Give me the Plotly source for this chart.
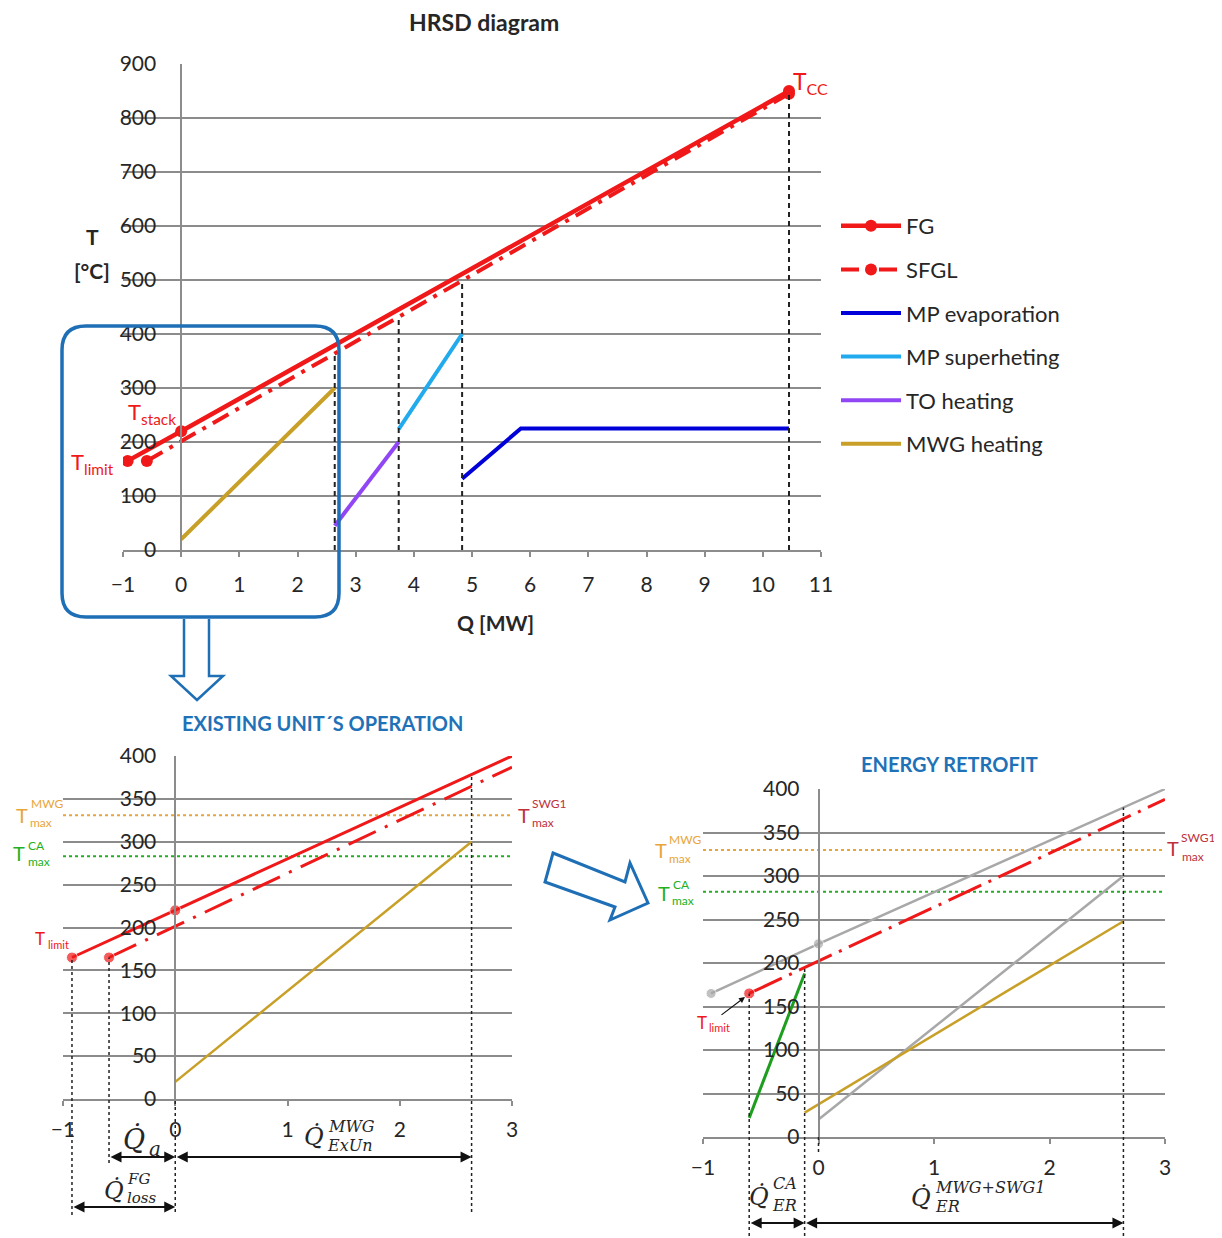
import numpy as np
import plotly.graph_objects as go

# ---------------- data ----------------
# HRSD diagram (top)
Q_FG = [-0.92, 0.0, 10.45]
T_FG = [165, 220, 850]
Q_SFGL = [-0.59, 10.45]
T_SFGL = [165, 845]
Q_MP_EVAP = [4.83, 5.84, 10.45]
T_MP_EVAP = [132, 225, 225]
Q_MP_SH = [3.74, 4.83]
T_MP_SH = [224, 400]
Q_TO = [2.64, 3.74]
T_TO = [45, 200]
Q_MWG = [0.0, 2.64]
T_MWG = [20, 300]
Q_SECTIONS = [2.64, 3.74, 4.83, 10.45]
LEGEND_NAMES = ["FG", "SFGL", "MP evaporation", "MP superheting", "TO heating", "MWG heating"]

# Existing unit's operation (bottom left)
Q_FG_EX = [-0.92, 0.0, 3.0]
T_FG_EX = [165, 220, 400]
Q_SFGL_EX = [-0.59, 3.0]
T_SFGL_EX = [165, 387]
Q_MWG_EX = [0.0, 2.64]
T_MWG_EX = [20, 300]
T_MAX_MWG_EX = 331
T_MAX_CA_EX = 283

# Energy retrofit (bottom right)
Q_FG_ER = [-0.93, 0.0, 3.0]
T_FG_ER = [165, 222, 400]
Q_SFGL_ER = [-0.6, 3.0]
T_SFGL_ER = [165, 388]
Q_CA_ER = [-0.6, -0.12]
T_CA_ER = [22, 188]
Q_MWG_OLD = [0.0, 2.64]
T_MWG_OLD = [20, 300]
Q_MWG_SWG1 = [-0.12, 2.64]
T_MWG_SWG1 = [28, 248]
T_MAX_MWG_ER = 330
T_MAX_CA_ER = 282

# ---------------- style ----------------
OFF = 8                      # page body margin of the html page
W, H = 1222 - OFF, 1238 - OFF
FONT = "Lato"
MATH = "DejaVu Serif"
RED = "#F01818"
DKRED = "#C0303A"
BLUE_D = "#0000D8"
BLUE_L = "#22AAEE"
PURPLE = "#9146F5"
GOLD = "#C8A028"
GRAY = "#A8A8A8"
GREEN = "#1E9E1E"
DOT_OR = "#E8A53A"
DOT_GR = "#22B022"
TITLE_BLUE = "#1F72B8"
GRID = "#8C8C8C"
TXT = "#262626"


def px(x):
    return (x - OFF) / W


def py(y):
    return 1 - (y - OFF) / H


fig = go.Figure()

# ---------- top chart traces ----------
SFGL_DASH_TOP = "18px,8px,4px,8px"
fig.add_trace(go.Scatter(x=Q_FG, y=T_FG, name=LEGEND_NAMES[0], legendgroup="a",
                         mode="lines+markers", line=dict(color=RED, width=4.5),
                         marker=dict(size=12, color=RED), xaxis="x", yaxis="y"))
fig.add_trace(go.Scatter(x=Q_SFGL, y=T_SFGL, name=LEGEND_NAMES[1], legendgroup="b",
                         mode="lines+markers", line=dict(color=RED, width=4, dash=SFGL_DASH_TOP),
                         marker=dict(size=12, color=RED), xaxis="x", yaxis="y"))
fig.add_trace(go.Scatter(x=Q_MP_EVAP, y=T_MP_EVAP, name=LEGEND_NAMES[2], legendgroup="c",
                         mode="lines", line=dict(color=BLUE_D, width=4), xaxis="x", yaxis="y"))
fig.add_trace(go.Scatter(x=Q_MP_SH, y=T_MP_SH, name=LEGEND_NAMES[3], legendgroup="d",
                         mode="lines", line=dict(color=BLUE_L, width=4), xaxis="x", yaxis="y"))
fig.add_trace(go.Scatter(x=Q_TO, y=T_TO, name=LEGEND_NAMES[4], legendgroup="e",
                         mode="lines", line=dict(color=PURPLE, width=4), xaxis="x", yaxis="y"))
fig.add_trace(go.Scatter(x=Q_MWG, y=T_MWG, name=LEGEND_NAMES[5], legendgroup="f",
                         mode="lines", line=dict(color=GOLD, width=4), xaxis="x", yaxis="y"))

# ---------- bottom-left traces ----------
for t, col in ((T_MAX_MWG_EX, DOT_OR), (T_MAX_CA_EX, DOT_GR)):
    fig.add_trace(go.Scatter(x=[-1, 3], y=[t, t], mode="lines", showlegend=False,
                             line=dict(color=col, width=2, dash="dot"), xaxis="x2", yaxis="y2"))
fig.add_trace(go.Scatter(x=Q_FG_EX, y=T_FG_EX, mode="lines+markers", showlegend=False,
                         line=dict(color=RED, width=3), marker=dict(size=[11, 11, 0], color=RED),
                         xaxis="x2", yaxis="y2"))
fig.add_trace(go.Scatter(x=Q_SFGL_EX, y=T_SFGL_EX, mode="lines+markers", showlegend=False,
                         line=dict(color=RED, width=3, dash="30px,10px,3px,10px"),
                         marker=dict(size=[11, 0], color=RED), xaxis="x2", yaxis="y2"))
fig.add_trace(go.Scatter(x=Q_MWG_EX, y=T_MWG_EX, mode="lines", showlegend=False,
                         line=dict(color=GOLD, width=2.5), xaxis="x2", yaxis="y2"))

# ---------- bottom-right traces ----------
for t, col in ((T_MAX_MWG_ER, DOT_OR), (T_MAX_CA_ER, DOT_GR)):
    fig.add_trace(go.Scatter(x=[-1, 3], y=[t, t], mode="lines", showlegend=False,
                             line=dict(color=col, width=2, dash="dot"), xaxis="x3", yaxis="y3"))
fig.add_trace(go.Scatter(x=Q_FG_ER, y=T_FG_ER, mode="lines+markers", showlegend=False,
                         line=dict(color=GRAY, width=2.5), marker=dict(size=[10, 10, 0], color=GRAY),
                         xaxis="x3", yaxis="y3"))
fig.add_trace(go.Scatter(x=Q_MWG_OLD, y=T_MWG_OLD, mode="lines", showlegend=False,
                         line=dict(color=GRAY, width=2.5), xaxis="x3", yaxis="y3"))
fig.add_trace(go.Scatter(x=Q_MWG_SWG1, y=T_MWG_SWG1, mode="lines", showlegend=False,
                         line=dict(color=GOLD, width=2.5), xaxis="x3", yaxis="y3"))
fig.add_trace(go.Scatter(x=Q_CA_ER, y=T_CA_ER, mode="lines", showlegend=False,
                         line=dict(color=GREEN, width=3), xaxis="x3", yaxis="y3"))
fig.add_trace(go.Scatter(x=Q_SFGL_ER, y=T_SFGL_ER, mode="lines+markers", showlegend=False,
                         line=dict(color=RED, width=3, dash="36px,8px,3px,8px"),
                         marker=dict(size=[11, 0], color=RED), xaxis="x3", yaxis="y3"))

# ---------- axes ----------
AX = {
    # name: (x px left, x px right, y px bottom, y px top, xrange, yrange, dtick_y)
    "1": (123, 821, 550, 64, [-1, 11], [0, 900], 100),
    "2": (63, 512, 1099, 756, [-1, 3], [0, 400], 50),
    "3": (703, 1165, 1137, 789, [-1, 3], [0, 400], 50),
}
layout_axes = {}
for k, (xl, xr, yb, yt, xr_, yr_, dty) in AX.items():
    sfx = "" if k == "1" else k
    xd = [px(xl), px(xr)]
    yd = [py(yb), py(yt)]
    pos = xd[0] + (0 - xr_[0]) / (xr_[1] - xr_[0]) * (xd[1] - xd[0])
    layout_axes["xaxis" + sfx] = dict(
        domain=xd, range=xr_, dtick=1, tick0=0, anchor="y" + sfx, showgrid=False,
        zeroline=False, showline=True, linecolor=GRID, linewidth=1.5,
        ticks="outside", ticklen=5, tickcolor=GRID, tickwidth=1.5, automargin=False,
        ticklabelstandoff=10 if k == "1" else 6,
        tickfont=dict(size=21, family=FONT, color=TXT))
    layout_axes["yaxis" + sfx] = dict(
        domain=yd, range=yr_, dtick=dty, tick0=0, anchor="free", position=pos,
        showgrid=True, gridcolor=GRID, gridwidth=1.5, zeroline=False, automargin=False,
        showline=True, linecolor=GRID, linewidth=1.5, ticks="",
        ticklabelstandoff=20 if k == "1" else 14,
        tickfont=dict(size=21, family=FONT, color=TXT))

shapes = []
annotations = []


def ydom(k, ypix):
    xl, xr, yb, yt = AX[k][:4]
    return (yb - ypix) / (yb - yt)


def vdash(k, q, t_top, ypix_bottom, dash, width=1.8, t_bottom=None):
    sfx = "" if k == "1" else k
    ymax = AX[k][5][1]
    y0 = ydom(k, ypix_bottom) if t_bottom is None else t_bottom / ymax
    shapes.append(dict(type="line", xref="x" + sfx, yref="y" + sfx + " domain",
                       x0=q, x1=q, y0=y0, y1=t_top / ymax,
                       line=dict(color="#222222", width=width, dash=dash), layer="above"))


# top chart section lines up to SFGL
for q in Q_SECTIONS:
    vdash("1", q, float(np.interp(q, Q_SFGL, T_SFGL)), None, "5px,4px", 2, t_bottom=0)

# bottom-left boundaries
vdash("2", Q_FG_EX[0], T_FG_EX[0], 1215, "3px,3px", 1.5)
vdash("2", Q_SFGL_EX[0], T_SFGL_EX[0], 1163, "3px,3px", 1.5)
vdash("2", Q_MWG_EX[0], 0, 1212, "3px,3px", 1.5)
vdash("2", Q_MWG_EX[1], float(np.interp(Q_MWG_EX[1], Q_FG_EX, T_FG_EX)), 1212, "3px,3px", 1.5)

# bottom-right boundaries
vdash("3", Q_CA_ER[0], T_SFGL_ER[0], 1236, "3px,3px", 1.5)
vdash("3", Q_CA_ER[1], float(np.interp(Q_CA_ER[1], Q_SFGL_ER, T_SFGL_ER)), 1236, "3px,3px", 1.5)
vdash("3", Q_MWG_SWG1[1], float(np.interp(Q_MWG_SWG1[1], Q_FG_ER, T_FG_ER)), 1236, "3px,3px", 1.5)
vdash("3", 0.0, 0, 1152, "3px,3px", 1.5)


def harrow(k, q0, q1, ypix):
    sfx = "" if k == "1" else k
    annotations.append(dict(x=q1, y=py(ypix), xref="x" + sfx, yref="paper",
                            ax=q0, ay=0, axref="x" + sfx, ayref="pixel", text="",
                            showarrow=True, arrowhead=2, startarrowhead=2, arrowside="end+start",
                            arrowsize=1.1, arrowwidth=2, arrowcolor="#111111",
                            standoff=0, startstandoff=0))


harrow("2", Q_SFGL_EX[0], 0.0, 1157)
harrow("2", 0.0, Q_MWG_EX[1], 1157)
harrow("2", Q_FG_EX[0], 0.0, 1207)
harrow("3", Q_CA_ER[0], Q_CA_ER[1], 1223)
harrow("3", Q_CA_ER[1], Q_MWG_SWG1[1], 1223)


def txt(xp, yp, s, size, color=TXT, family=FONT, xanchor="center", yanchor="middle"):
    annotations.append(dict(x=px(xp), y=py(yp), xref="paper", yref="paper", text=s,
                            showarrow=False, font=dict(size=size, color=color, family=family),
                            xanchor=xanchor, yanchor=yanchor))


def stacked(main_c, sup_l, sub_l, main, sup, sub, size, small, color, family=FONT, italic=False):
    f = (lambda s: "<i>" + s + "</i>") if italic else (lambda s: s)
    txt(main_c[0], main_c[1], f(main), size, color, family)
    if sup:
        txt(sup_l[0], sup_l[1], f(sup), small, color, family, xanchor="left")
    if sub:
        txt(sub_l[0], sub_l[1], f(sub), small, color, family, xanchor="left")


# titles
txt(484, 22, "<b>HRSD diagram</b>", 23)
txt(495, 622, "<b>Q [MW]</b>", 21)
txt(92, 237, "<b>T</b>", 21)
txt(92, 270, "<b>[°C]</b>", 21)
txt(322, 723, "<b>EXISTING UNIT´S OPERATION</b>", 20, TITLE_BLUE)
txt(950, 764, "<b>ENERGY RETROFIT</b>", 20, TITLE_BLUE)

# top labels
txt(791, 82, "T<sub>CC</sub>", 23, RED, xanchor="left")
txt(126, 413, "T<sub>stack</sub>", 22, RED, xanchor="left")
txt(69, 463, "T<sub>limit</sub>", 22, RED, xanchor="left")

# bottom-left labels
stacked((22, 815), (29, 804), (28, 822), "T", "MWG", "max", 20, 12, DOT_OR)
stacked((19, 853), (26, 845), (26, 861), "T", "CA", "max", 20, 12, DOT_GR)
stacked((524, 815), (530, 804), (530, 822), "T", "SWG1", "max", 20, 12, DKRED)
stacked((40, 938), None, (46, 944), "T", None, "limit", 17, 11, RED)
QD = "Q\u0307"
stacked((134, 1139), None, (147, 1149), QD, None, "a", 27, 20, TXT, MATH, True)
stacked((114, 1191), (125, 1179), (125, 1198), QD, "FG", "loss", 24, 15, TXT, MATH, True)
stacked((314, 1137), (326, 1126), (325, 1145), QD, "MWG", "ExUn", 24, 16, TXT, MATH, True)

# bottom-right labels
stacked((661, 850), (667, 839), (667, 858), "T", "MWG", "max", 20, 12, DOT_OR)
stacked((664, 893), (671, 884), (670, 900), "T", "CA", "max", 20, 12, DOT_GR)
stacked((1173, 848), (1179, 837), (1180, 856), "T", "SWG1", "max", 20, 12, DKRED)
stacked((702, 1022), None, (707, 1027), "T", None, "limit", 17, 11, RED)
stacked((759, 1197), (771, 1183), (770, 1205), QD, "CA", "ER", 24, 16, TXT, MATH, True)
stacked((921, 1198), (933, 1187), (933, 1206), QD, "MWG+SWG1", "ER", 24, 16, TXT, MATH, True)
annotations.append(dict(x=px(745), y=py(997), xref="paper", yref="paper", text="",
                        ax=-25, ay=19, showarrow=True, arrowhead=2, arrowsize=1,
                        arrowwidth=1.2, arrowcolor="#111111"))

# ---------- decorative shapes (rounded box and block arrows) ----------
def ppath(points, close=False):
    s = "M {:.5f},{:.5f}".format(px(points[0][0]), py(points[0][1]))
    for p in points[1:]:
        s += " L {:.5f},{:.5f}".format(px(p[0]), py(p[1]))
    return s + (" Z" if close else "")


BOX = (62, 326, 339, 617, 24)
l, t, r, b, rad = BOX
box_path = (
    "M {},{} L {},{} Q {},{} {},{} L {},{} Q {},{} {},{} L {},{} Q {},{} {},{} L {},{} Q {},{} {},{} Z".format(
        px(l + rad), py(t), px(r - rad), py(t), px(r), py(t), px(r), py(t + rad),
        px(r), py(b - rad), px(r), py(b), px(r - rad), py(b),
        px(l + rad), py(b), px(l), py(b), px(l), py(b - rad),
        px(l), py(t + rad), px(l), py(t), px(l + rad), py(t)))
shapes.append(dict(type="path", xref="paper", yref="paper", path=box_path,
                   line=dict(color="#1E6FB5", width=3.5), layer="above"))
down_arrow = [(184, 619), (184, 676), (171, 676), (197, 700), (223, 676), (209, 676), (209, 619)]
shapes.append(dict(type="path", xref="paper", yref="paper", path=ppath(down_arrow),
                   line=dict(color="#1E6FB5", width=2.5)))
diag_arrow = [(553, 853), (625, 882), (630, 863), (648, 903), (610, 920), (615, 907), (545, 882)]
shapes.append(dict(type="path", xref="paper", yref="paper", path=ppath(diag_arrow, True),
                   line=dict(color="#1E6FB5", width=3)))

fig.update_layout(
    width=W, height=H, margin=dict(l=0, r=0, t=0, b=0, autoexpand=False),
    paper_bgcolor="white", plot_bgcolor="rgba(0,0,0,0)",
    font=dict(family=FONT, size=20, color=TXT),
    showlegend=True,
    legend=dict(x=px(836), y=py(205), xanchor="left", yanchor="top",
                font=dict(size=22, family=FONT, color=TXT), itemwidth=60,
                tracegroupgap=12, bgcolor="rgba(0,0,0,0)"),
    shapes=shapes, annotations=annotations,
    **layout_axes,
)

fig.write_html("out.html")
